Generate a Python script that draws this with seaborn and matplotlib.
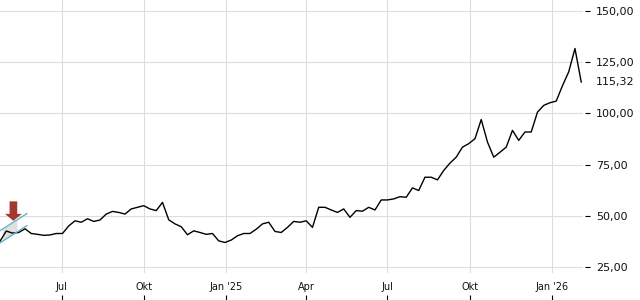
import numpy as np
import pandas as pd
import matplotlib
matplotlib.use("Agg")
import matplotlib.pyplot as plt
import matplotlib.dates as mdates
import seaborn as sns

# ---- data ----
start_date = "2024-04-23"
prices = [37.5, 42.5, 41.5, 41.8, 43.6, 41.3, 40.9, 40.4, 40.6, 41.3,
          41.3, 45.0, 47.5, 46.8, 48.5, 47.2, 47.9, 50.8, 52.1, 51.6,
          50.8, 53.3, 54.1, 54.9, 53.3, 52.5, 56.5, 48.0, 46.0, 44.6,
          40.7, 42.6, 41.8, 40.9, 41.3, 37.7, 36.9, 38.1, 40.2, 41.3,
          41.3, 43.4, 46.0, 46.8, 42.3, 41.8, 44.3, 47.2, 46.8, 47.5,
          44.3, 54.1, 54.1, 52.8, 51.6, 53.3, 49.2, 52.5, 52.2, 54.1,
          52.8, 57.7, 57.7, 58.2, 59.3, 59.0, 63.6, 62.3, 68.8, 68.8,
          67.5, 72.1, 75.7, 78.6, 83.5, 85.2, 87.6, 97.0, 86.0, 78.6,
          81.0, 83.5, 91.7, 86.8, 90.9, 90.9, 100.6, 103.9, 105.2, 106.0,
          113.5, 120.3, 131.7, 115.32]
last_price = 115.32

x_tick_dates = ["2024-07-01", "2024-10-01", "2025-01-01", "2025-04-01",
                "2025-07-01", "2025-10-01", "2026-01-01"]
x_tick_labels = ["Jul", "Okt", "Jan '25", "Apr", "Jul", "Okt", "Jan '26"]
y_ticks = [25, 50, 75, 100, 125, 150]
x_limits = ["2024-04-23", "2026-02-05"]
y_limits = [22.0, 155.4]

channel_dates = ["2024-04-23", "2024-05-23"]
channel_upper = [42.65, 51.0]
channel_lower = [36.76, 45.1]
shade_dates = ["2024-04-26", "2024-05-12"]
arrow_date = "2024-05-08"
arrow_tip = 47.5
arrow_tail = 57.0

df = pd.DataFrame({
    "date": pd.date_range(start_date, periods=len(prices), freq="7D"),
    "price": prices,
})

# ---- figure ----
fig = plt.figure(figsize=(6.4, 3.0), dpi=100)
ax = fig.add_axes([0.0, 0.09, 583 / 640, 0.91])

sns.lineplot(data=df, x="date", y="price", ax=ax, color="black", linewidth=1.0)

# trend channel + shading
cd = mdates.date2num(pd.to_datetime(channel_dates))
ax.plot(cd, channel_upper, color="#5db7c9", lw=1.0)
ax.plot(cd, channel_lower, color="#5db7c9", lw=1.0)
sd = np.linspace(*mdates.date2num(pd.to_datetime(shade_dates)), 20)
ax.fill_between(sd, np.interp(sd, cd, channel_lower), np.interp(sd, cd, channel_upper),
                color="#d9d9d9", alpha=0.8, lw=0, zorder=1)

# arrow
ad = mdates.date2num(pd.Timestamp(arrow_date))
ax.annotate("", xy=(ad, arrow_tip), xytext=(ad, arrow_tail),
            arrowprops=dict(arrowstyle="simple,head_length=0.5,head_width=1.22,tail_width=0.55",
                            fc="#a3382e", ec="none", mutation_scale=10,
                            shrinkA=0, shrinkB=0), zorder=5)

ax.set_xlim(pd.to_datetime(x_limits[0]), pd.to_datetime(x_limits[1]))
ax.set_ylim(*y_limits)
ax.set_xticks(pd.to_datetime(x_tick_dates))
ax.set_xticklabels(x_tick_labels)
ax.set_yticks(y_ticks)
ax.set_yticklabels([f"{v:.2f}".replace(".", ",") for v in y_ticks])
ax.set_xlabel("")
ax.set_ylabel("")

ax.grid(True, color="#dddddd", linewidth=0.8)
ax.set_axisbelow(True)
for s in ["left", "top", "right", "bottom"]:
    ax.spines[s].set_visible(False)
ax.spines["right"].set_position(("outward", 2 * 0.72))
ax.spines["bottom"].set_position(("outward", 22 * 0.72))

ax.yaxis.tick_right()
ax.tick_params(axis="y", which="both", left=False, right=True, labelleft=False,
               labelright=True, length=3.6, width=0.8, color="black",
               pad=4.3, labelsize=8, labelcolor="#111111")
ax.tick_params(axis="x", direction="out", length=3.6, width=0.8, color="black",
               pad=-13.0, labelsize=7, labelcolor="#111111")

ax.annotate(f"{last_price:.2f}".replace(".", ","), xy=(1, last_price),
            xycoords=("axes fraction", "data"), xytext=(13 * 0.72, 0),
            textcoords="offset points", va="center", ha="left",
            fontsize=8, color="#111111", annotation_clip=False)

fig.savefig("out.png", dpi=100)
